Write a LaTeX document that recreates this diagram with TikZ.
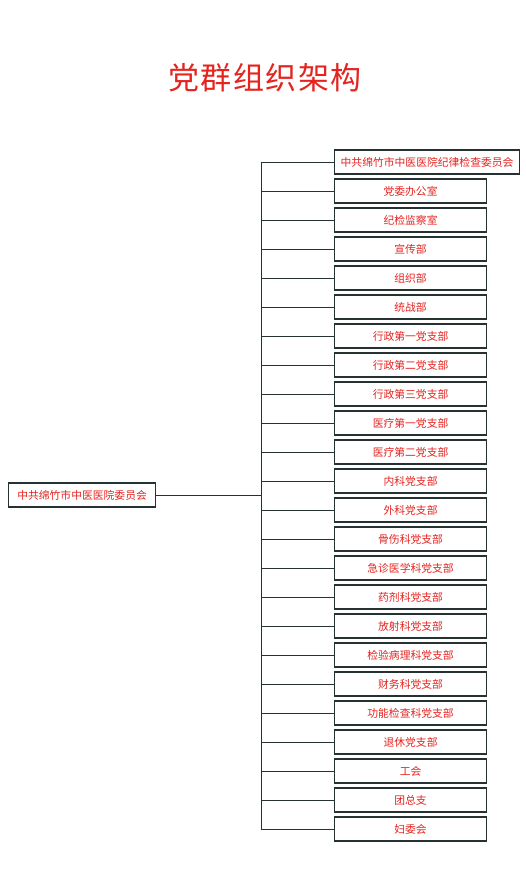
\documentclass[tikz,border=0pt]{standalone}
\usepackage{fontspec}
\newfontfamily\cjk{Noto Sans CJK SC}
\definecolor{txtred}{HTML}{E5231F}
\definecolor{edge}{HTML}{263232}
\begin{document}
\begin{tikzpicture}[x=1pt,y=-1pt,
  orgbox/.style={draw=edge, line width=1.1pt, fill=white, text=txtred, font=\cjk\fontsize{10.8}{12}\selectfont, minimum height=24pt, inner sep=0pt, anchor=west},
  conn/.style={draw=edge, line width=0.9pt}]
\useasboundingbox (0,0) rectangle (526,890);
\node[text=txtred, font=\cjk\fontsize{31}{34}\selectfont] (title) at (265,78) {党\hspace{1.5pt}群\hspace{1.5pt}组\hspace{1.5pt}织\hspace{1.5pt}架\hspace{1.5pt}构};
\node[orgbox, minimum width=147pt] (root) at (8,495) {中共绵竹市中医医院委员会};
\coordinate (top) at (261,162);
\coordinate (bot) at (261,829);
\coordinate (mid) at (261,495);
\draw[conn] (top) -- (bot);
\draw[conn] (root.east) -- (mid);
\node[orgbox, minimum width=185pt] (b1) at (334,162) {中共绵竹市中医医院纪律检查委员会};
\draw[conn] (top) -- (b1.west);
\foreach \t [count=\i from 2] in {党委办公室,纪检监察室,宣传部,组织部,统战部,行政第一党支部,行政第二党支部,行政第三党支部,医疗第一党支部,医疗第二党支部,内科党支部,外科党支部,骨伤科党支部,急诊医学科党支部,药剂科党支部,放射科党支部,检验病理科党支部,财务科党支部,功能检查科党支部,退休党支部,工会,团总支,妇委会}{
  \pgfmathsetmacro\yy{162+(\i-1)*29}
  \coordinate (j\i) at (261,\yy);
  \node[orgbox, minimum width=152pt] (b\i) at (334,\yy) {\t};
  \draw[conn] (j\i) -- (b\i.west);
}
\end{tikzpicture}
\end{document}
